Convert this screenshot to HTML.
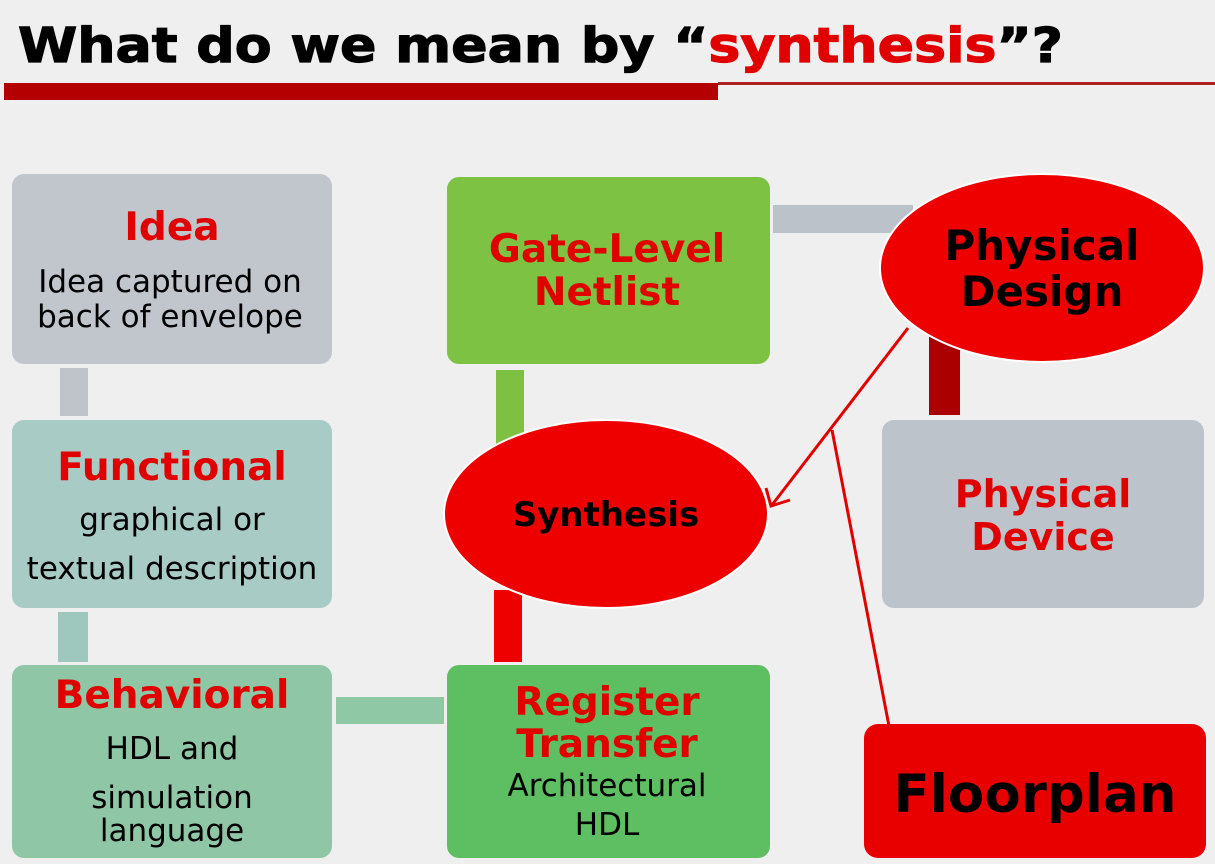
<!DOCTYPE html>
<html><head><meta charset="utf-8"><style>
html,body{margin:0;padding:0;background:#efefef;}
svg{display:block;}
text{font-family:"DejaVu Sans","Liberation Sans",sans-serif;}
</style></head><body>
<svg width="1215" height="864" viewBox="0 0 1215 864" xmlns="http://www.w3.org/2000/svg">
<rect width="1215" height="864" fill="#efefef"/>
<text x="18" y="62" font-size="48" font-weight="bold" fill="#000" stroke="#000" stroke-width="1.2" textLength="1045" lengthAdjust="spacingAndGlyphs">What do we mean by “<tspan fill="#e00000" stroke="#e00000">synthesis</tspan>”?</text>
<rect x="718" y="82" width="497" height="3" fill="#b02020"/>
<rect x="4" y="83" width="714" height="17" fill="#b50000"/>

<!-- connectors -->
<rect x="773" y="205" width="140" height="28" fill="#bcc2ca"/>
<rect x="60" y="368" width="28" height="48" fill="#bfc3ca"/>
<rect x="58" y="612" width="30" height="50" fill="#9ec8be"/>
<rect x="336" y="697" width="108" height="27" fill="#8fc8a4"/>
<rect x="496" y="370" width="28" height="80" fill="#7dc042"/>
<rect x="494" y="590" width="28" height="72" fill="#ee0000"/>
<rect x="929" y="335" width="31" height="80" fill="#aa0000"/>

<!-- boxes -->
<rect x="12" y="174" width="320" height="190" rx="12" fill="#c1c5cc"/>
<rect x="12" y="420" width="320" height="188" rx="12" fill="#a9cbc6"/>
<rect x="12" y="665" width="320" height="193" rx="12" fill="#8fc6a6"/>
<rect x="447" y="177" width="323" height="187" rx="12" fill="#7dc242"/>
<rect x="447" y="665" width="323" height="193" rx="12" fill="#5dbf62"/>
<rect x="882" y="420" width="322" height="188" rx="12" fill="#bcc3cb"/>
<rect x="864" y="724" width="342" height="134" rx="14" fill="#e80000"/>

<ellipse cx="1042" cy="268" rx="162" ry="94" fill="#ee0000" stroke="#fff" stroke-width="2"/>
<ellipse cx="606" cy="514" rx="162" ry="94" fill="#ee0000" stroke="#fff" stroke-width="2"/>

<!-- red lines -->
<g stroke="#e00000" stroke-width="3" fill="none">
<line x1="908" y1="328" x2="772" y2="505"/>
<polyline points="766,488 771,506 790,500"/>
<line x1="832" y1="430" x2="889" y2="726"/>
</g>

<!-- text -->
<g font-weight="bold" text-anchor="middle">
<text x="172" y="240" font-size="39" fill="#e00000">Idea</text>
<text x="172" y="480" font-size="39" fill="#e00000">Functional</text>
<text x="172" y="708" font-size="39" fill="#e00000">Behavioral</text>
<text x="607" y="262" font-size="39" fill="#e00000">Gate-Level</text>
<text x="607" y="305" font-size="39" fill="#e00000">Netlist</text>
<text x="607" y="715" font-size="39" fill="#e00000">Register</text>
<text x="607" y="757" font-size="39" fill="#e00000">Transfer</text>
<text x="1043" y="507" font-size="38" fill="#e00000">Physical</text>
<text x="1043" y="550" font-size="38" fill="#e00000">Device</text>
<text x="1042" y="260" font-size="42" fill="#000">Physical</text>
<text x="1042" y="306" font-size="42" fill="#000">Design</text>
<text x="606" y="526" font-size="34" fill="#000">Synthesis</text>
<text x="1035" y="812" font-size="53" fill="#000">Floorplan</text>
</g>
<g font-size="31" fill="#000" text-anchor="middle">
<text x="170" y="292">Idea captured on</text>
<text x="170" y="327">back of envelope</text>
<text x="172" y="530">graphical or</text>
<text x="172" y="579">textual description</text>
<text x="172" y="759">HDL and</text>
<text x="172" y="808">simulation</text>
<text x="172" y="841">language</text>
<text x="607" y="796">Architectural</text>
<text x="607" y="835">HDL</text>
</g>
</svg>
</body></html>
